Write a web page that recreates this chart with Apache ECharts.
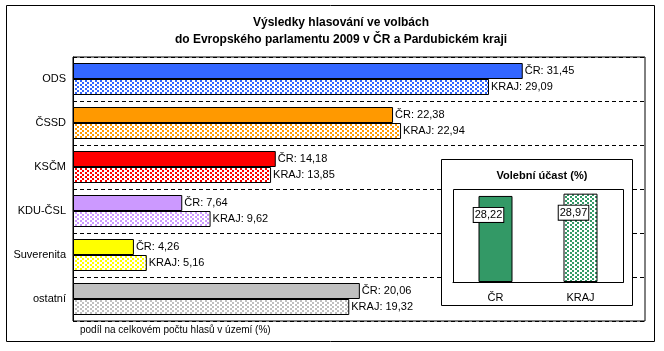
<!DOCTYPE html>
<html>
<head>
<meta charset="utf-8">
<script src="https://cdn.jsdelivr.net/npm/echarts@6/dist/echarts.min.js"></script>
<style>
  html, body { margin: 0; padding: 0; background: #fff; }
  #chart { width: 664px; height: 351px; }
</style>
</head>
<body>
<div id="chart"></div>
<script>
const categories = ['ODS', 'ČSSD', 'KSČM', 'KDU-ČSL', 'Suverenita', 'ostatní'];
const crValues = [31.45, 22.38, 14.18, 7.64, 4.26, 20.06];
const krajValues = [29.09, 22.94, 13.85, 9.62, 5.16, 19.32];
const partyColors = ['#3366FF', '#FF9900', '#FF0000', '#CC99FF', '#FFFF00', '#C0C0C0'];

const turnoutCategories = ['ČR', 'KRAJ'];
const turnoutValues = [28.22, 28.97];
const turnoutColor = '#339966';

const font = 'Arial, "Liberation Sans", sans-serif';

// speckled fill like the Excel pattern used for the KRAJ bars
function makePattern(color) {
    const c = document.createElement('canvas');
    c.width = 5;
    c.height = 4;
    const ctx = c.getContext('2d');
    ctx.fillStyle = '#fff';
    ctx.fillRect(0, 0, 5, 4);
    ctx.fillStyle = color;
    ctx.fillRect(0, 0, 2, 2);
    ctx.fillRect(2, 2, 2, 2);
    return {image: c, repeat: 'repeat'};
}

function fmt(v) {
    return v.toFixed(2).replace('.', ',');
}

const chart = echarts.init(document.getElementById('chart'));

chart.setOption({
    animation: false,
    title: [{
        text: 'Výsledky hlasování ve volbách\ndo Evropského parlamentu 2009 v ČR a Pardubickém kraji',
        left: 336, top: 9, textAlign: 'center',
        textStyle: {fontFamily: font, fontSize: 12, fontWeight: 'bold', color: '#000', lineHeight: 17}
    }, {
        text: 'Volební účast (%)',
        left: 537, top: 165, textAlign: 'center', z: 5,
        textStyle: {fontFamily: font, fontSize: 11, fontWeight: 'bold', color: '#000'}
    }],
    grid: [{
        left: 73, right: 19, top: 57, bottom: 30,
        show: true, borderColor: '#000', borderWidth: 1
    }, {
        left: 453, right: 41, top: 189, bottom: 69
    }],
    xAxis: [{
        gridIndex: 0, type: 'value', min: 0, max: 40, show: false
    }, {
        gridIndex: 1, type: 'category', data: turnoutCategories, z: 5,
        axisLine: {lineStyle: {color: '#000'}},
        axisTick: {length: 4, lineStyle: {color: '#000'}},
        axisLabel: {fontFamily: font, fontSize: 11, color: '#000', margin: 10}
    }],
    yAxis: [{
        gridIndex: 0, type: 'category', data: categories, inverse: true,
        axisLine: {lineStyle: {color: '#000'}},
        axisTick: {length: 3, lineStyle: {color: '#000'}},
        axisLabel: {fontFamily: font, fontSize: 11, color: '#000', margin: 7},
        splitLine: {show: true, lineStyle: {color: '#000', type: [4, 3], width: 1}}
    }, {
        gridIndex: 1, type: 'value', min: 0, max: 30.5, show: false
    }],
    graphic: [{
        type: 'rect', z: 0,
        shape: {x: 6.5, y: 5.5, width: 648, height: 336},
        style: {fill: 'none', stroke: '#000', lineWidth: 1}
    }, {
        type: 'rect', z: 1,
        shape: {x: 441.5, y: 159.5, width: 191, height: 146},
        style: {fill: '#fff', stroke: '#000', lineWidth: 1}
    }, {
        type: 'rect', z: 4,
        shape: {x: 453.5, y: 189.5, width: 170, height: 93},
        style: {fill: 'none', stroke: '#000', lineWidth: 1}
    }, {
        type: 'text', z: 1, left: 80, top: 325,
        style: {text: 'podíl na celkovém počtu hlasů v území (%)', font: '10px ' + font, fill: '#000'}
    }],
    series: [{
        name: 'ČR', type: 'bar', xAxisIndex: 0, yAxisIndex: 0, z: 0,
        barWidth: 16, barGap: '0%',
        data: crValues.map((v, i) => ({
            value: v,
            itemStyle: {color: partyColors[i], borderColor: '#000', borderWidth: 1}
        })),
        label: {
            show: true, position: 'right', distance: 2,
            fontFamily: font, fontSize: 11, color: '#000',
            formatter: p => 'ČR: ' + fmt(p.value)
        }
    }, {
        name: 'KRAJ', type: 'bar', xAxisIndex: 0, yAxisIndex: 0, z: 0,
        barWidth: 16, barGap: '0%',
        data: krajValues.map((v, i) => ({
            value: v,
            itemStyle: {color: makePattern(partyColors[i]), borderColor: '#000', borderWidth: 1}
        })),
        label: {
            show: true, position: 'right', distance: 2,
            fontFamily: font, fontSize: 11, color: '#000',
            formatter: p => 'KRAJ: ' + fmt(p.value)
        }
    }, {
        name: 'Volební účast', type: 'bar', xAxisIndex: 1, yAxisIndex: 1, z: 3,
        barWidth: 34,
        data: turnoutValues.map((v, i) => ({
            value: v,
            itemStyle: {
                color: i === 0 ? turnoutColor : makePattern(turnoutColor),
                borderColor: '#000', borderWidth: 1
            }
        })),
        label: {
            show: true, position: ['50%', 12], align: 'center', verticalAlign: 'top',
            offset: [-7, 0],
            fontFamily: font, fontSize: 11, color: '#000',
            backgroundColor: '#fff', borderColor: '#000', borderWidth: 1,
            padding: [2, 1, 1, 1],
            formatter: p => fmt(p.value)
        }
    }]
});
</script>
</body>
</html>
